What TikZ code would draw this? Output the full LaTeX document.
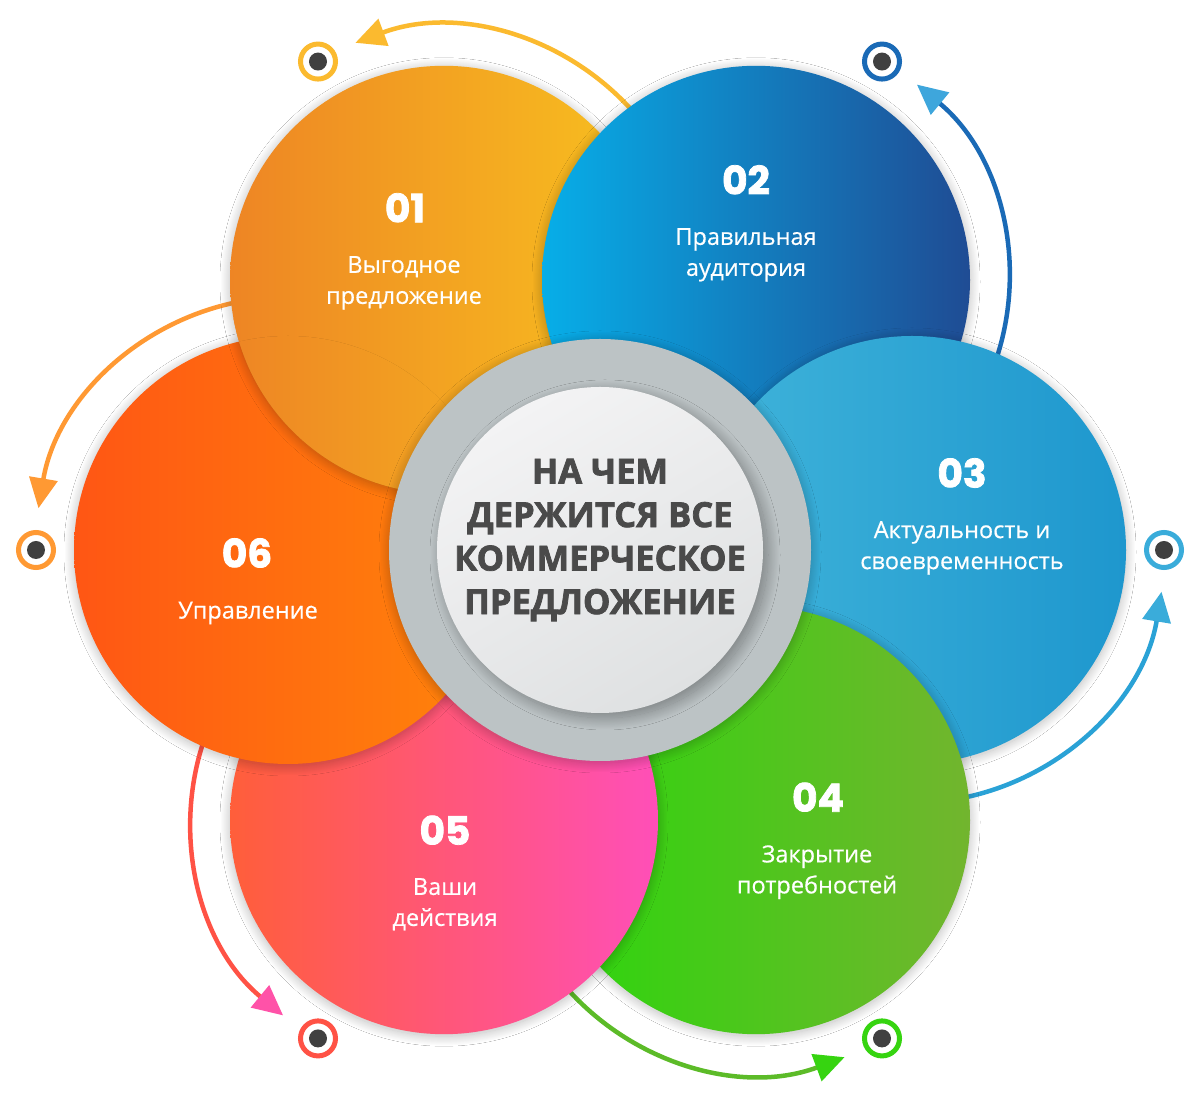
\documentclass[tikz,border=0pt]{standalone}
\usepackage{fontspec}
\setmainfont{Open Sans}
\newfontfamily\numfont{Poppins}[BoldFeatures={FakeBold=2}]
\newfontfamily\headfont{Open Sans}[BoldFeatures={FakeBold=2.2}]
\newfontfamily\labfont{Open Sans}[FakeBold=0.5]
\usetikzlibrary{arrows.meta,shadows.blur,calc}
\definecolor{cAl}{HTML}{EE8524}\definecolor{cAr}{HTML}{F8C21F}
\definecolor{cBl}{HTML}{07AEE8}\definecolor{cBr}{HTML}{1F4C94}
\definecolor{cCl}{HTML}{40B4DA}\definecolor{cCr}{HTML}{1E97CE}
\definecolor{cDl}{HTML}{2AD70C}\definecolor{cDr}{HTML}{72B52E}
\definecolor{cEl}{HTML}{FF5E3A}\definecolor{cEr}{HTML}{FF4FB8}
\definecolor{cFl}{HTML}{FF5614}\definecolor{cFr}{HTML}{FF860A}
\definecolor{ringgray}{HTML}{BCC3C5}
\definecolor{hubl}{HTML}{F3F3F4}\definecolor{hubr}{HTML}{DFE1E2}
\definecolor{txtgray}{HTML}{4A4A4A}
\definecolor{dotgray}{HTML}{404040}
\definecolor{aA}{HTML}{FBBA2F}
\definecolor{aB}{HTML}{1A6AB6}\definecolor{aBh}{HTML}{3EA6DC}
\definecolor{aC}{HTML}{2AA2D6}\definecolor{aCh}{HTML}{3AACDA}
\definecolor{aD}{HTML}{5CBB28}\definecolor{aDh}{HTML}{36D410}
\definecolor{aE}{HTML}{FF5245}\definecolor{aEh}{HTML}{FF52A8}
\definecolor{aF}{HTML}{FF9933}
\begin{document}
\begin{tikzpicture}[x=1pt,y=1pt,
  bubble/.style={circle, minimum size=428pt, inner sep=0pt, draw=none,
    blur shadow={shadow blur radius=10pt, shadow blur steps=40, shadow xshift=0pt, shadow yshift=-2pt, shadow opacity=28}},
  flow/.style={line width=4.5pt},
  numtxt/.style={text=white, font=\numfont\bfseries\fontsize{39}{40}\selectfont},
  labtxt/.style={text=white, align=center, font=\labfont\fontsize{23.5}{31}\selectfont},
  target/.style={circle, minimum size=35pt, inner sep=0pt, line width=5pt, fill=white},
  dot/.style={circle, minimum size=18pt, inner sep=0pt, fill=dotgray}
]
\useasboundingbox (0,0) rectangle (1200,1100);
\fill[white] (0,0) rectangle (1200,1100);
\coordinate (H) at (600,550);
\coordinate (P1) at ($(H)+(120:312pt)$);
\coordinate (P2) at ($(H)+(60:312pt)$);
\coordinate (P3) at ($(H)+(0:312pt)$);
\coordinate (P4) at ($(H)+(-60:312pt)$);
\coordinate (P5) at ($(H)+(-120:312pt)$);
\coordinate (P6) at ($(H)+(180:312pt)$);
% targets
\foreach \i/\a in {1/120,2/60,3/0,4/-60,5/-120,6/180}{
  \coordinate (T\i) at ($(P\i)+(\a:252pt)$);
  \coordinate (S\i) at ($(P\i)+(\a-85:253pt)$);
}
% arrows (drawn first, circles cover their starts)
\draw[flow, aA, -{Triangle[length=30pt,width=28pt,color=aA]}] (S1) arc[start angle=35, end angle=110.5, radius=253pt];
\draw[flow, aB, -{Triangle[length=30pt,width=28pt,color=aBh]}] (S2) arc[start angle=-25, end angle=50.5, radius=253pt];
\draw[flow, aC, -{Triangle[length=30pt,width=28pt,color=aCh]}] (S3) arc[start angle=-85, end angle=-9.5, radius=253pt];
\draw[flow, aD, -{Triangle[length=30pt,width=28pt,color=aDh]}] (S4) arc[start angle=-145, end angle=-69.5, radius=253pt];
\draw[flow, aE, -{Triangle[length=30pt,width=28pt,color=aEh]}] (S5) arc[start angle=155, end angle=230.5, radius=253pt];
\draw[flow, aF, -{Triangle[length=30pt,width=28pt,color=aF]}] (S6) arc[start angle=95, end angle=170.5, radius=253pt];
% circles
\node[bubble, left color=cAl, right color=cAr] (c1) at (P1) {};
\node[bubble, left color=cBl, right color=cBr] (c2) at (P2) {};
\node[bubble, left color=cCl, right color=cCr] (c3) at (P3) {};
\node[bubble, left color=cDl, right color=cDr] (c4) at (P4) {};
\node[bubble, left color=cEl, right color=cEr] (c5) at (P5) {};
\node[bubble, left color=cFl, right color=cFr] (c6) at (P6) {};
\begin{scope}
  \clip (P6) circle[radius=238pt];
  \clip (P1) circle[radius=214pt];
  \node[circle, minimum size=428pt, inner sep=0pt, left color=cAl, right color=cAr] (c1top) at (P1) {};
\end{scope}
\begin{scope}
  \clip (P6) circle[radius=214pt];
  \node[bubble, left color=cAl, right color=cAr] (c1again) at (P1) {};
\end{scope}
% hub
\node[circle, minimum size=422pt, inner sep=0pt, fill=ringgray,
  blur shadow={shadow blur radius=10pt, shadow blur steps=40, shadow xshift=0pt, shadow yshift=-2pt, shadow opacity=28}] (ring) at (H) {};
\node[circle, minimum size=326pt, inner sep=0pt, top color=hubl, bottom color=hubr, shading angle=30,
  blur shadow={shadow blur radius=12pt, shadow blur steps=40, shadow xshift=5pt, shadow yshift=-5pt, shadow opacity=35}] (hub) at (H) {};
\node[text=txtgray, align=center, font=\headfont\bfseries\fontsize{34.5}{43.5}\selectfont] (title) at ($(H)+(0,10)$)
  {НА ЧЕМ\\ДЕРЖИТСЯ ВСЕ\\КОММЕРЧЕСКОЕ\\ПРЕДЛОЖЕНИЕ};
% texts
\node[numtxt] (n1) at ($(c1)+(-39,72)$) {01};
\node[labtxt] (l1) at ($(c1)+(-40,-3)$) {Выгодное\\предложение};
\node[numtxt] (n2) at ($(c2)+(-10,100)$) {02};
\node[labtxt] (l2) at ($(c2)+(-10,25)$) {Правильная\\аудитория};
\node[numtxt] (n3) at ($(c3)+(50,77)$) {03};
\node[labtxt] (l3) at ($(c3)+(50,2)$) {Актуальность и\\своевременность};
\node[numtxt] (n4) at ($(c4)+(62,23)$) {04};
\node[labtxt] (l4) at ($(c4)+(61,-52)$) {Закрытие\\потребностей};
\node[numtxt] (n5) at ($(c5)+(1,-10)$) {05};
\node[labtxt] (l5) at ($(c5)+(1,-84)$) {Ваши\\действия};
\node[numtxt] (n6) at ($(c6)+(-41,-3)$) {06};
\node[labtxt] (l6) at ($(c6)+(-40,-63)$) {Управление};
% target rings
\node[target, draw=aA] (t1) at (T1) {}; \node[dot] (d1) at (T1) {};
\node[target, draw=aB] (t2) at (T2) {}; \node[dot] (d2) at (T2) {};
\node[target, draw=aCh] (t3) at (T3) {}; \node[dot] (d3) at (T3) {};
\node[target, draw=aDh] (t4) at (T4) {}; \node[dot] (d4) at (T4) {};
\node[target, draw=aE] (t5) at (T5) {}; \node[dot] (d5) at (T5) {};
\node[target, draw=aF] (t6) at (T6) {}; \node[dot] (d6) at (T6) {};
\end{tikzpicture}
\end{document}
